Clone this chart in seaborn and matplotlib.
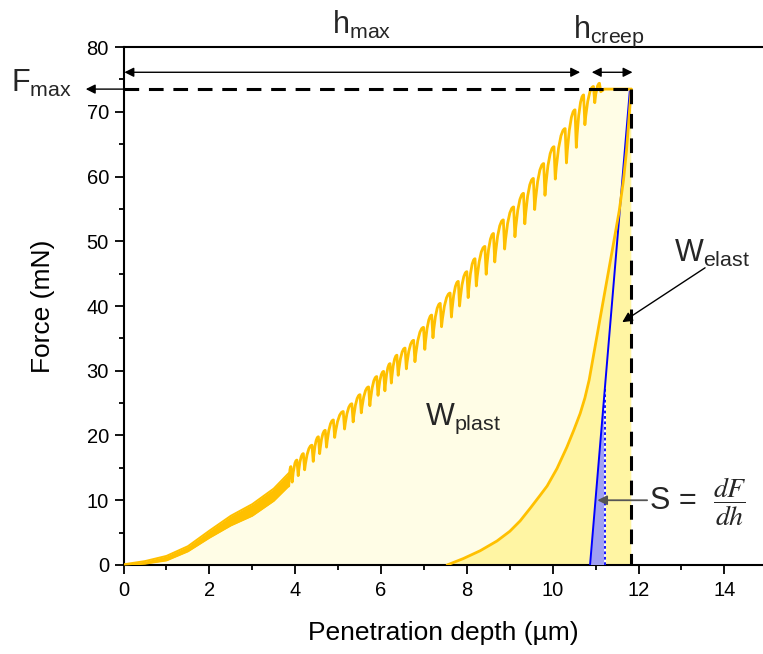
import numpy as np
import matplotlib
matplotlib.use("Agg")
import matplotlib.pyplot as plt
import seaborn as sns
from matplotlib.ticker import MultipleLocator
from matplotlib.path import Path
from matplotlib.patches import PathPatch

# ---------------- data ----------------
# low-load part of the loading curve: thick oscillating band (envelopes)
band_x = [0.0, 0.5, 1.0, 1.5, 2.0, 2.5, 3.0, 3.5, 3.85]
band_upper = [0.1, 0.6, 1.4, 2.9, 5.3, 7.6, 9.4, 11.8, 14.2]
band_lower = [0.0, 0.2, 0.7, 2.1, 4.2, 6.1, 7.6, 9.9, 12.2]

# upper part of the loading curve: sawtooth peaks and the troughs after each peak
peak_x = [3.90, 4.04, 4.19, 4.39, 4.54, 4.70, 4.89, 5.12, 5.32, 5.51, 5.71, 5.90,
          6.06, 6.21, 6.37, 6.56, 6.76, 6.99, 7.18, 7.38, 7.61, 7.80, 8.00, 8.19,
          8.42, 8.62, 8.85, 9.09, 9.32, 9.55, 9.79, 10.03, 10.29, 10.52, 10.72,
          10.95, 11.09]
peak_F = [15.2, 16.2, 17.2, 18.5, 19.8, 20.8, 22.4, 23.7, 24.9, 26.3, 27.5, 29.1,
          29.9, 31.1, 32.4, 33.5, 34.7, 36.7, 38.6, 40.4, 42.0, 43.8, 45.3, 47.3,
          49.2, 51.2, 53.3, 55.3, 57.4, 59.7, 62.0, 64.6, 67.4, 70.3, 72.6,
          73.9, 74.4]
trough_F = [12.8, 13.8, 14.7, 16.0, 17.2, 18.2, 19.7, 21.0, 22.1, 23.5, 24.6, 26.2,
            26.9, 28.1, 29.3, 30.3, 31.4, 33.3, 35.1, 36.8, 38.3, 40.0, 41.3, 43.1,
            44.9, 46.8, 48.8, 50.7, 52.7, 54.9, 57.1, 59.6, 62.1, 64.5, 68.0,
            71.4, 73.1]
drop_dx = 0.03

# creep (hold at maximum load)
creep_x = [11.20, 11.83]
creep_F = [73.5, 73.5]

# unloading curve
unload_x = [11.83, 11.80, 11.76, 11.72, 11.65, 11.55, 11.42, 11.25, 11.11, 11.00,
            10.85, 10.75, 10.64, 10.49, 10.33, 10.10, 9.87, 9.70, 9.48, 9.24,
            9.00, 8.70, 8.31, 7.92, 7.54]
unload_F = [73.5, 71.0, 67.5, 64.0, 59.5, 54.7, 49.8, 43.5, 38.3, 34.2,
            28.6, 25.8, 23.4, 20.8, 18.2, 14.9, 12.2, 10.7, 8.8, 6.8,
            5.2, 3.7, 2.2, 1.0, 0.0]

# contact stiffness tangent
tangent_x = [10.87, 11.80]
tangent_F = [0.0, 73.5]
s_mark_x = 11.22

F_max = 73.5
h_max = 10.64
h_end = 11.83

# ---------------- style ----------------
sns.set_theme(style="ticks")
plt.rcParams["font.family"] = ["Liberation Sans", "DejaVu Sans"]
plt.rcParams["mathtext.fontset"] = "custom"
plt.rcParams["mathtext.rm"] = "Liberation Sans"
plt.rcParams["mathtext.it"] = "Liberation Sans:italic"
plt.rcParams["mathtext.bf"] = "Liberation Sans:bold"

ORANGE = "#FFC000"
LIGHT = "#FFFDE6"
MEDIUM = "#FFF5A3"
BLUE = "#0000FF"
BLUEFILL = "#A0A0F2"

fig = plt.figure(figsize=(7.63, 6.54), dpi=100)
ax = fig.add_axes([0.1619, 0.1361, 0.8381, 0.7920])

# build loading sawtooth path (arch-shaped teeth)
verts = [(band_x[-1], band_lower[-1])]
codes = [Path.MOVETO]
prev_x = band_x[-1]
for px, pf, tf in zip(peak_x, peak_F, trough_F):
    ctrl = (prev_x + 0.4 * (px - prev_x), pf)
    verts += [ctrl, (px, pf), (px + drop_dx, tf)]
    codes += [Path.CURVE3, Path.CURVE3, Path.LINETO]
    prev_x = px + drop_dx
for cx, cf in zip(creep_x, creep_F):
    verts.append((cx, cf))
    codes.append(Path.LINETO)

# area under the loading curve (W_plast background)
fill_verts = [(0.0, 0.0)] + list(zip(band_x, band_upper)) + verts + [(h_end, 0.0), (0.0, 0.0)]
fill_codes = ([Path.MOVETO] + [Path.LINETO] * len(band_x) + [Path.LINETO] + codes[1:]
              + [Path.LINETO, Path.CLOSEPOLY])
ax.add_patch(PathPatch(Path(fill_verts, fill_codes), facecolor=LIGHT, lw=0, zorder=1))
ax.fill(unload_x + [h_end], unload_F + [0.0], color=MEDIUM, lw=0, zorder=2)

# stiffness tangent and region
F_at_mark = np.interp(s_mark_x, tangent_x, tangent_F)
ax.fill([tangent_x[0], s_mark_x, s_mark_x], [0, 0, F_at_mark], color=BLUEFILL,
        lw=0, zorder=3)
ax.plot([s_mark_x, s_mark_x], [0, F_at_mark], color="white", lw=1.3, zorder=4)
ax.plot([s_mark_x, s_mark_x], [0, F_at_mark], color=BLUE, lw=1.3,
        ls=(0, (1.5, 1.5)), zorder=4)
sns.lineplot(x=tangent_x, y=tangent_F, color=BLUE, lw=1.4, ax=ax, zorder=4,
             sort=False, estimator=None)

# curves
ax.fill_between(band_x, band_lower, band_upper, color=ORANGE, lw=0, zorder=5)
sns.lineplot(x=band_x, y=band_upper, color=ORANGE, lw=1.4, ax=ax, zorder=5,
             sort=False, estimator=None)
sns.lineplot(x=band_x, y=band_lower, color=ORANGE, lw=1.4, ax=ax, zorder=5,
             sort=False, estimator=None)
ax.add_patch(PathPatch(Path(verts, codes), facecolor="none", edgecolor=ORANGE,
                       lw=2.0, joinstyle="round", capstyle="round", zorder=5))
sns.lineplot(x=unload_x, y=unload_F, color=ORANGE, lw=2.0, ax=ax, zorder=5,
             sort=False, estimator=None)

# dashed guide lines
dash = (0, (4.8, 3.2))
ax.plot([0, h_end], [F_max, F_max], color="black", lw=2.2, ls=dash, zorder=6)
ax.plot([h_end, h_end], [F_max, 0], color="black", lw=2.2, ls=dash, zorder=6)

# arrows
arr_y = 76.1
ax.annotate("", xy=(0.02, arr_y), xytext=(h_max, arr_y),
            arrowprops=dict(arrowstyle="<|-|>", color="black", lw=1.0,
                            mutation_scale=14, shrinkA=0, shrinkB=0), zorder=7)
ax.annotate("", xy=(10.91, arr_y), xytext=(11.86, arr_y),
            arrowprops=dict(arrowstyle="<|-|>", color="black", lw=1.0,
                            mutation_scale=14, shrinkA=0, shrinkB=0), zorder=7)
ax.annotate("", xy=(-0.88, F_max), xytext=(0.0, F_max),
            arrowprops=dict(arrowstyle="-|>", color="black", lw=1.0,
                            mutation_scale=14, shrinkA=0, shrinkB=0),
            annotation_clip=False, zorder=7)
ax.annotate("", xy=(11.62, 37.5), xytext=(13.55, 45.9),
            arrowprops=dict(arrowstyle="-|>", color="black", lw=1.0,
                            mutation_scale=15, shrinkA=0, shrinkB=0), zorder=7)
ax.annotate("", xy=(11.04, 10.0), xytext=(12.2, 10.0),
            arrowprops=dict(arrowstyle="-|>", color="#555555", lw=1.3,
                            mutation_scale=14, shrinkA=0, shrinkB=0), zorder=7)

# texts
TS = 22
ax.text(5.55, 82.0, r"h$_{\mathrm{max}}$", fontsize=TS, ha="center", va="baseline",
        clip_on=False)
ax.text(11.3, 81.4, r"h$_{\mathrm{creep}}$", fontsize=TS, ha="center",
        va="baseline", clip_on=False)
ax.text(-1.9, 73.0, r"F$_{\mathrm{max}}$", fontsize=TS, ha="center", va="baseline",
        clip_on=False)
ax.text(13.72, 46.8, r"W$_{\mathrm{elast}}$", fontsize=TS, ha="center",
        va="baseline", zorder=8)
ax.text(7.92, 21.6, r"W$_{\mathrm{plast}}$", fontsize=TS, ha="center",
        va="baseline", zorder=8)
ax.text(12.27, 8.6, "S =", fontsize=TS, ha="left", va="baseline", zorder=8)
ax.text(14.12, 9.8, r"$\dfrac{dF}{dh}$", fontsize=20, ha="center", va="center",
        math_fontfamily="stix", zorder=8)

# axes
ax.set_xlim(0, 14.9)
ax.set_ylim(0, 80)
ax.xaxis.set_major_locator(MultipleLocator(2))
ax.xaxis.set_minor_locator(MultipleLocator(1))
ax.yaxis.set_major_locator(MultipleLocator(10))
ax.yaxis.set_minor_locator(MultipleLocator(5))
ax.tick_params(which="major", direction="out", length=6.5, width=1.3,
               labelsize=14.5, color="black", labelcolor="black", pad=4)
ax.tick_params(which="minor", direction="out", length=3.5, width=1.3, color="black")
ax.tick_params(axis="x", which="major", pad=5)
for s in ["left", "bottom", "top"]:
    ax.spines[s].set_linewidth(1.5)
    ax.spines[s].set_color("black")
ax.spines["right"].set_visible(False)
ax.set_xlabel("Penetration depth (µm)", fontsize=19, labelpad=15, color="black")
ax.set_ylabel("Force (mN)", fontsize=19, labelpad=23, color="black")

fig.savefig("out.png", dpi=100)
